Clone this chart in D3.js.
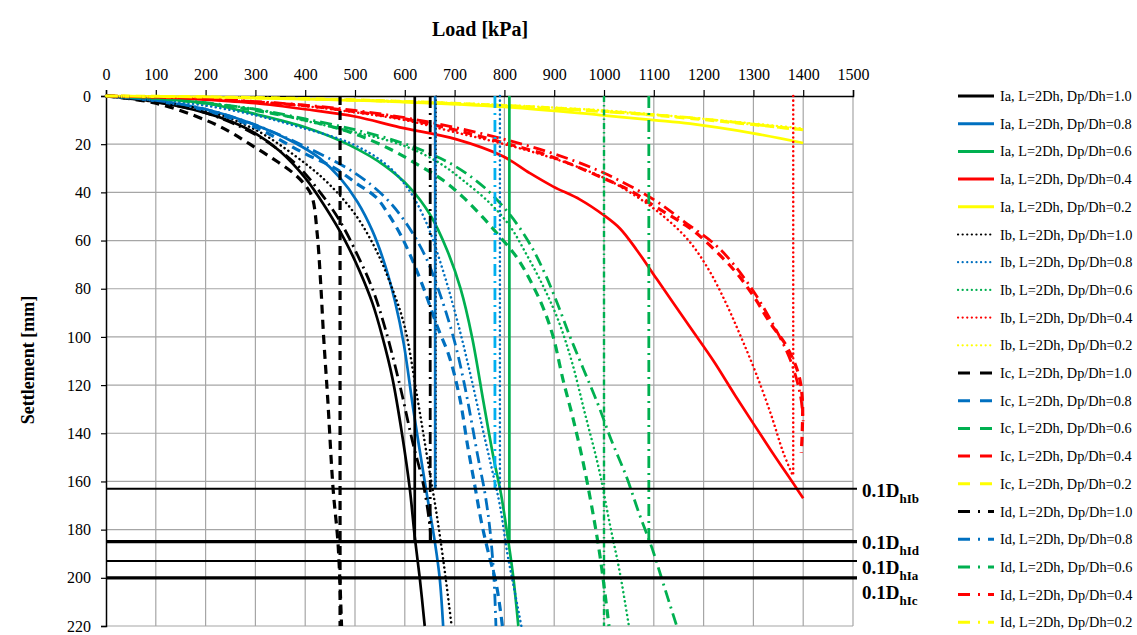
<!DOCTYPE html>
<html>
<head>
<meta charset="utf-8">
<script src="https://cdn.jsdelivr.net/npm/d3@7/dist/d3.min.js"></script>
<style>
  body { margin: 0; padding: 0; background: #fff; }
  text { font-family: "Liberation Serif", "Times New Roman", serif; }
</style>
</head>
<body>
<div id="chart"></div>
<script>
// ticks
var xTicks = [0,100,200,300,400,500,600,700,800,900,1000,1100,1200,1300,1400,1500];
var yTicks = [0,20,40,60,80,100,120,140,160,180,200,220];

// load [kPa], settlement [mm]
var ia10 = [[0,0],[100,2.5],[200,7],[250,10.5],[300,15.5],[350,23],[400,34],[440,46],[480,60],[510,73],[535,86],[555,100],[575,117],[595,141],[610,163],[620,183],[630,200],[640,220]];
var ia08 = [[0,0],[100,2],[200,5.5],[300,12],[380,19.5],[430,26],[470,34],[505,44],[535,56],[560,70],[580,85],[598,103],[617,130],[640,160],[661,186],[670,200],[677,220]];
var ia06 = [[0,0],[100,1],[200,3],[300,7.5],[400,13],[490,20.5],[560,29],[610,38],[650,49],[685,64],[712,80],[735,100],[758,127],[778,150],[793,165],[808,185],[818,200],[828,220]];
var ia04 = [[0,0],[100,0.5],[200,1.5],[300,3],[400,5.5],[500,8.5],[590,13],[704,18],[797,25],[851,32],[898,37.6],[952,43],[999,49.4],[1032,55],[1066,64],[1106,76],[1173,96],[1220,110],[1264,124.5],[1335,147],[1384,162],[1400,167]];
var ia02 = [[0,0],[200,0.5],[400,1.3],[590,2.4],[800,4.5],[992,7.9],[1100,10],[1173,11.5],[1300,15.5],[1400,19.5]];

var ib10 = [[0,0],[100,2],[200,6],[300,14],[400,28],[450,37],[500,49],[540,63],[575,80],[600,96],[625,125],[645,150],[665,175],[682,200],[694,220]];
var ib08 = [[0,0],[100,1.5],[200,4],[300,8],[390,13],[490,19.5],[560,28],[605,38],[642,52],[676,72],[705,93],[730,114],[755,137],[775,155],[791,170],[806,190],[820,205],[834,220]];
var ib06 = [[0,0],[100,1],[200,3],[300,5.5],[390,9.8],[490,14.6],[570,18.7],[620,22.5],[671,28],[717,35],[771,44.5],[811,54],[845,66],[878,79],[908,93],[935,110],[962,132],[990,155],[1012,178],[1032,198],[1050,220]];
var ib04 = [[0,0],[100,0.5],[200,1.2],[300,2.5],[400,4.2],[500,6.8],[600,10],[700,15],[800,20],[900,26],[1000,34],[1060,41],[1120,50],[1170,60],[1210,72],[1245,86],[1275,100],[1305,115],[1335,132],[1360,148],[1380,158]];
var ib02 = [[0,0],[200,0.4],[400,1.1],[600,2.2],[800,3.8],[1000,6],[1200,9.5],[1400,13.5]];

var ic10 = [[0,0],[100,3],[200,10],[250,15],[289,20],[335,26],[376,32],[400,37],[414,42],[424,57],[431,77.5],[437,100],[445,125],[456,163],[466,186],[473,220]];
var ic08 = [[0,0],[100,2],[200,6],[300,13],[400,24],[460,30],[501,36],[542,42],[570,50],[595,59],[617,69],[640,81],[664,95],[689,108],[710,125],[726,145],[740,161],[753,176],[766,188],[784,203],[796,220]];
var ic06 = [[0,0],[100,1],[200,3],[300,6],[400,10],[490,15],[570,22],[630,29],[677,35],[717,42],[755,50],[791,58.4],[825,67],[853,77],[878,88],[898,100],[918,118],[938,134],[958,152],[975,170],[992,191],[1010,220]];
var ic04 = [[0,0],[100,0.5],[200,1.2],[300,2.5],[400,4],[500,6.5],[600,9.5],[700,14],[791,19],[892,25],[992,33.5],[1059,40],[1092,44.5],[1159,53],[1186,57],[1260,72],[1300,83],[1333,94],[1367,104],[1390,115],[1398,125],[1398,140],[1396,148]];
var ic02 = [[0,0],[200,0.4],[400,1.1],[600,2.3],[800,4],[1000,6.3],[1200,9.8],[1400,14]];

var id10 = [[0,0],[100,2.5],[200,7],[300,16],[380,28],[430,40],[470,52],[505,66],[535,80],[560,96],[590,120],[615,143],[638,162],[651,180],[652,185]];
var id08 = [[0,0],[100,1.8],[200,5.5],[300,12],[400,21],[500,32],[560,42],[600,52],[640,66],[672,83],[700,102],[720,120],[747,150],[761,165],[771,180],[779,200],[783,220]];
var id06 = [[0,0],[100,1],[200,2.8],[300,5.5],[400,9.5],[500,14],[580,18.5],[640,23],[700,29],[760,38],[810,49],[850,61],[882,74],[908,87],[932,100],[958,113],[988,128],[1015,143],[1045,158],[1070,173],[1097,188],[1120,203],[1146,220]];
var id04 = [[0,0],[100,0.5],[200,1.2],[300,2.3],[400,3.8],[500,6],[600,9],[700,13],[800,18],[900,24],[1000,32],[1100,43],[1160,52],[1230,63],[1290,78],[1340,95],[1375,110],[1395,125],[1400,135]];
var id02 = [[0,0],[200,0.4],[400,1.2],[600,2.4],[800,4.2],[1000,6.5],[1173,9],[1394,14]];

var seriesNames = ["Ia, L=2Dh, Dp/Dh=1.0","Ia, L=2Dh, Dp/Dh=0.8","Ia, L=2Dh, Dp/Dh=0.6","Ia, L=2Dh, Dp/Dh=0.4","Ia, L=2Dh, Dp/Dh=0.2",
                   "Ib, L=2Dh, Dp/Dh=1.0","Ib, L=2Dh, Dp/Dh=0.8","Ib, L=2Dh, Dp/Dh=0.6","Ib, L=2Dh, Dp/Dh=0.4","Ib, L=2Dh, Dp/Dh=0.2",
                   "Ic, L=2Dh, Dp/Dh=1.0","Ic, L=2Dh, Dp/Dh=0.8","Ic, L=2Dh, Dp/Dh=0.6","Ic, L=2Dh, Dp/Dh=0.4","Ic, L=2Dh, Dp/Dh=0.2",
                   "Id, L=2Dh, Dp/Dh=1.0","Id, L=2Dh, Dp/Dh=0.8","Id, L=2Dh, Dp/Dh=0.6","Id, L=2Dh, Dp/Dh=0.4","Id, L=2Dh, Dp/Dh=0.2"];
var seriesData = [ia10,ia08,ia06,ia04,ia02, ib10,ib08,ib06,ib04,ib02, ic10,ic08,ic06,ic04,ic02, id10,id08,id06,id04,id02];

// vertical limit lines (load, bottom end in mm)
var vLoads = [470,620,651,661,781,791,810,1000,1090,1380];
var vEnds  = [220,185,185,163,163,163,185,220,185,158];
var vKinds = ["dash","solid","dashdot","solid","dashdot","dot","solid","dashdot2","dashdot","dot"];
var vColors = ["#000","#000","#000","#0070C0","#00B0F0","#0070C0","#00B050","#00B050","#00B050","#FF0000"];

// horizontal 0.1Dh lines
var hLevels = [163,185,193,200];
var hSubs = ["hIb","hId","hIa","hIc"];
var hWidths = [2,3.2,2,3.2];
var hLabelY = [491,543,568,593];

var colors = ["#000000","#0070C0","#00B050","#FF0000","#FFFF00"];
var styles = {
  solid:   {dash: null,         w: 2.7, cap: "butt"},
  dot:     {dash: "0.1,4.5",    w: 2.5, cap: "round"},
  dash:    {dash: "9,6",        w: 3.2, cap: "butt"},
  dashdot: {dash: "12,5,2,5",   w: 2.8, cap: "butt"},
  dashdot2:{dash: "6,3,1.5,3",  w: 2.4, cap: "butt"}
};
var kindOf = ["solid","dot","dash","dashdot"];

var W = 1137, H = 635;
var svg = d3.select("#chart").append("svg").attr("width", W).attr("height", H);

var x = d3.scaleLinear().domain([0,1500]).range([106,853]);
var y = d3.scaleLinear().domain([0,220]).range([96,626]);

// grid
svg.append("g").selectAll("line").data(xTicks.slice(1)).enter().append("line")
  .attr("x1", d => x(d)).attr("x2", d => x(d)).attr("y1", y(0)).attr("y2", y(220))
  .attr("stroke", "#A6A6A6").attr("stroke-width", 1.2);
svg.append("g").selectAll("line").data(yTicks.slice(1)).enter().append("line")
  .attr("x1", x(0)).attr("x2", x(1500)).attr("y1", d => y(d)).attr("y2", d => y(d))
  .attr("stroke", "#A6A6A6").attr("stroke-width", 1.2);

// axes
var gx = svg.append("g").attr("transform", "translate(0," + y(0) + ")")
  .call(d3.axisTop(x).tickValues(xTicks).tickSize(6).tickPadding(10).tickFormat(d3.format("d")));
var gy = svg.append("g").attr("transform", "translate(" + x(0) + ",0)")
  .call(d3.axisLeft(y).tickValues(yTicks).tickSize(5).tickPadding(10).tickFormat(d3.format("d")));
[gx, gy].forEach(function(g) {
  g.select(".domain").attr("stroke", "#000").attr("stroke-width", 1.5);
  g.selectAll(".tick line").attr("stroke", "#000").attr("stroke-width", 1.2);
  g.selectAll(".tick text").attr("font-family", "Liberation Serif").attr("font-size", 16).attr("fill", "#000");
});

svg.append("text").attr("x", 480).attr("y", 36).attr("text-anchor", "middle")
  .attr("font-size", 20).attr("font-weight", "bold").text("Load [kPa]");
svg.append("text").attr("transform", "translate(34,360) rotate(-90)").attr("text-anchor", "middle")
  .attr("font-size", 18).attr("font-weight", "bold").text("Settlement [mm]");

// curves
var line = d3.line().x(d => x(d[0])).y(d => y(d[1])).curve(d3.curveCatmullRom.alpha(0.5));
var curves = svg.append("g");
seriesData.forEach(function(data, i) {
  var st = styles[kindOf[Math.floor(i / 5)]];
  curves.append("path").datum(data).attr("d", line)
    .attr("fill", "none").attr("stroke", colors[i % 5])
    .attr("stroke-width", st.w).attr("stroke-dasharray", st.dash)
    .attr("stroke-linecap", st.cap);
});

// vertical lines
var vg = svg.append("g");
vLoads.forEach(function(v, i) {
  var st = styles[vKinds[i]];
  vg.append("line").attr("x1", x(v)).attr("x2", x(v)).attr("y1", y(0)).attr("y2", y(vEnds[i]))
    .attr("stroke", vColors[i]).attr("stroke-width", st.w)
    .attr("stroke-dasharray", st.dash).attr("stroke-linecap", st.cap);
});
// black dots over the blue line at 661
vg.append("line").attr("x1", x(vLoads[3]) + 1).attr("x2", x(vLoads[3]) + 1).attr("y1", y(0)).attr("y2", y(vEnds[3]))
  .attr("stroke", "#1a2a40").attr("stroke-width", 1.6).attr("stroke-dasharray", "0.1,4").attr("stroke-linecap", "round");

// horizontal 0.1Dh lines
var hg = svg.append("g");
hLevels.forEach(function(h, i) {
  hg.append("line").attr("x1", x(0)).attr("x2", 857).attr("y1", y(h)).attr("y2", y(h))
    .attr("stroke", "#000").attr("stroke-width", hWidths[i]);
  var t = hg.append("text").attr("x", 862).attr("y", hLabelY[i] + 6)
    .attr("font-size", 19).attr("font-weight", "bold");
  t.append("tspan").text("0.1D");
  t.append("tspan").attr("dy", 6).attr("font-size", 13).text(hSubs[i]);
});

// legend
var lg = svg.append("g");
seriesNames.forEach(function(name, i) {
  var ly = 96 + i * 27.7;
  var k = kindOf[Math.floor(i / 5)];
  var st = styles[k];
  var dash = st.dash;
  if (k === "dash") dash = "12,10";
  if (k === "dashdot") dash = "12,8,2,8";
  lg.append("line").attr("x1", 958).attr("x2", 994).attr("y1", ly).attr("y2", ly)
    .attr("stroke", colors[i % 5]).attr("stroke-width", k === "dot" ? 2.2 : 3)
    .attr("stroke-dasharray", dash).attr("stroke-linecap", st.cap);
  lg.append("text").attr("x", 1000).attr("y", ly + 5).attr("font-size", 14.3).text(name);
});
</script>
</body>
</html>
